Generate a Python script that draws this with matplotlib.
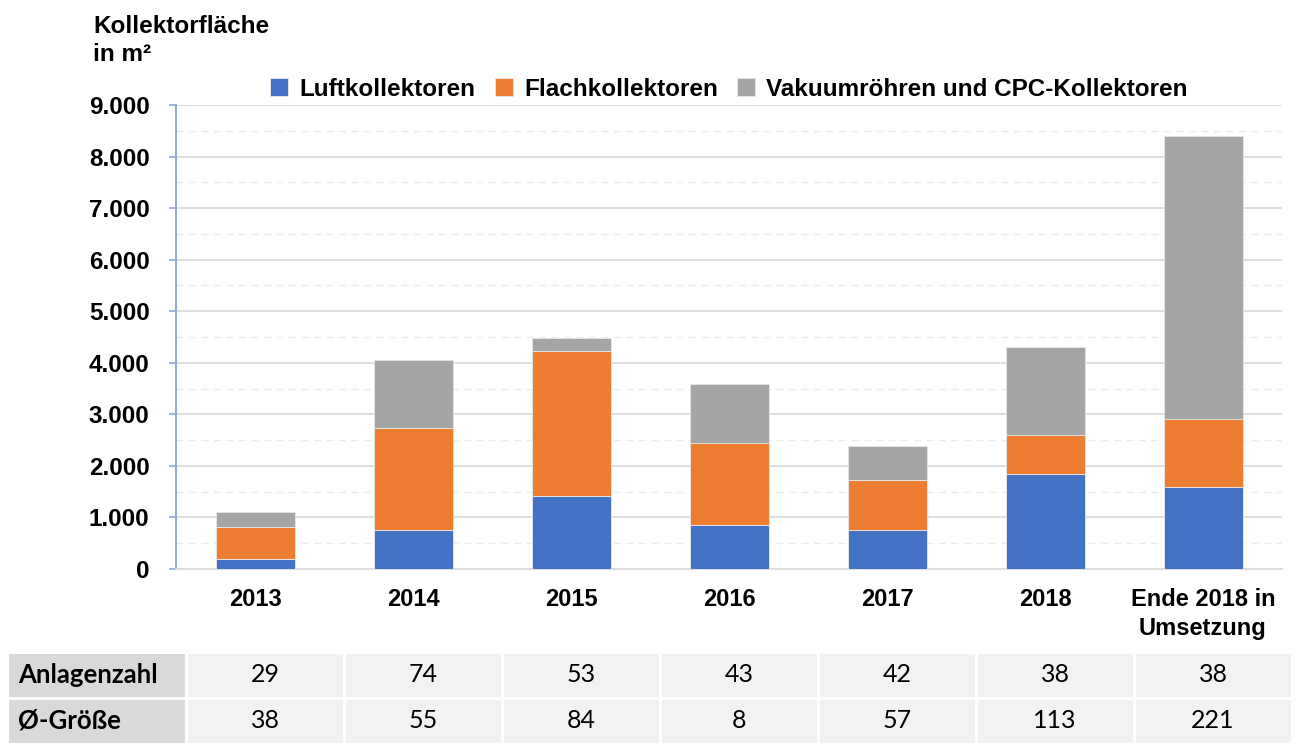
import numpy as np
import matplotlib.pyplot as plt
from matplotlib.ticker import FuncFormatter, MultipleLocator

# Daten
kategorien = ['2013', '2014', '2015', '2016', '2017', '2018', 'Ende 2018 in\nUmsetzung']
luft = [190, 750, 1410, 850, 750, 1850, 1600]
flach = [630, 1990, 2810, 1600, 980, 745, 1305]
vakuum = [285, 1310, 260, 1135, 655, 1715, 5500]
anlagenzahl = [29, 74, 53, 43, 42, 38, 38]
groesse = [38, 55, 84, 8, 57, 113, 221]
zeilen = ['Anlagenzahl', 'Ø-Größe']

farben = ['#4472c4', '#ed7d31', '#a5a5a5']
namen = ['Luftkollektoren', 'Flachkollektoren', 'Vakuumröhren und CPC-Kollektoren']

plt.rcParams['font.family'] = ['Liberation Sans', 'DejaVu Sans']

fig = plt.figure(figsize=(13.02, 7.5), dpi=100)
ax = fig.add_axes([176 / 1302, 181 / 750, 1106 / 1302, 464 / 750])

x = np.arange(len(kategorien))
unten = np.zeros(len(kategorien))
for werte, farbe, name in zip([luft, flach, vakuum], farben, namen):
    ax.bar(x, werte, width=0.5, bottom=unten, color=farbe, label=name,
           edgecolor='#e4e4e4', linewidth=0.7, zorder=3)
    unten += np.array(werte)

ax.set_xlim(-0.5, len(kategorien) - 0.5)
ax.set_ylim(0, 9000)
ax.yaxis.set_major_locator(MultipleLocator(1000))
ax.yaxis.set_minor_locator(MultipleLocator(500))
ax.yaxis.set_major_formatter(FuncFormatter(lambda v, p: f'{int(v):,}'.replace(',', '.')))
ax.grid(axis='y', which='major', color='#d9d9d9', linewidth=1.2, zorder=0)
ax.grid(axis='y', which='minor', color='#ebebeb', linewidth=1.0, linestyle=(0, (5, 4)), zorder=0)
ax.set_xticks(x)
ax.set_xticklabels(kategorien, fontsize=17, fontweight='bold', linespacing=1.3)
ax.tick_params(axis='x', length=0, pad=14)
ax.tick_params(axis='y', which='major', length=5, color='#8faadc', width=1.2, pad=14,
               labelsize=17.5)
ax.tick_params(axis='y', which='minor', length=0)
for lab in ax.get_yticklabels():
    lab.set_fontweight('bold')

for s in ['top', 'right']:
    ax.spines[s].set_visible(False)
ax.spines['left'].set_color('#8faadc')
ax.spines['left'].set_linewidth(1.4)
ax.spines['bottom'].set_color('#d9d9d9')
ax.spines['bottom'].set_linewidth(1.2)

leg = ax.legend(loc='center', bbox_to_anchor=(0.5, 1.034), ncol=3, frameon=False,
                handlelength=0.75, handleheight=0.75, handletextpad=0.45,
                columnspacing=0.8, prop={'size': 17.5, 'weight': 'bold'})

fig.text(93 / 1302, 1 - 15 / 750, 'Kollektorfläche\nin m²', fontsize=17.5,
         fontweight='bold', va='top', ha='left', linespacing=1.3)

# Tabelle unter dem Diagramm
tab = fig.add_axes([7 / 1302, 6 / 750, 1285 / 1302, 92 / 750])
kopf_b = 179
spalte_b = 158
tab.set_xlim(0, kopf_b + spalte_b * len(kategorien))
tab.set_ylim(-0.5, 1.5)
tab.invert_yaxis()
tab.axis('off')

for i, (zeile, werte) in enumerate(zip(zeilen, [anlagenzahl, groesse])):
    tab.barh(i, kopf_b, left=0, height=1, color='#d9d9d9', edgecolor='white', linewidth=2.2)
    tab.text(11, i, zeile, ha='left', va='center', fontsize=18.5, fontweight='bold',
             family=['Lato', 'DejaVu Sans'])
    links = kopf_b + spalte_b * np.arange(len(werte))
    tab.barh([i] * len(werte), spalte_b, left=links, height=1, color='#f2f2f2',
             edgecolor='white', linewidth=2.2)
    for l, w in zip(links, werte):
        tab.text(l + spalte_b / 2, i, str(w), ha='center', va='center', fontsize=18,
                 family=['Lato', 'DejaVu Sans'])

fig.savefig('out.png', dpi=100)
